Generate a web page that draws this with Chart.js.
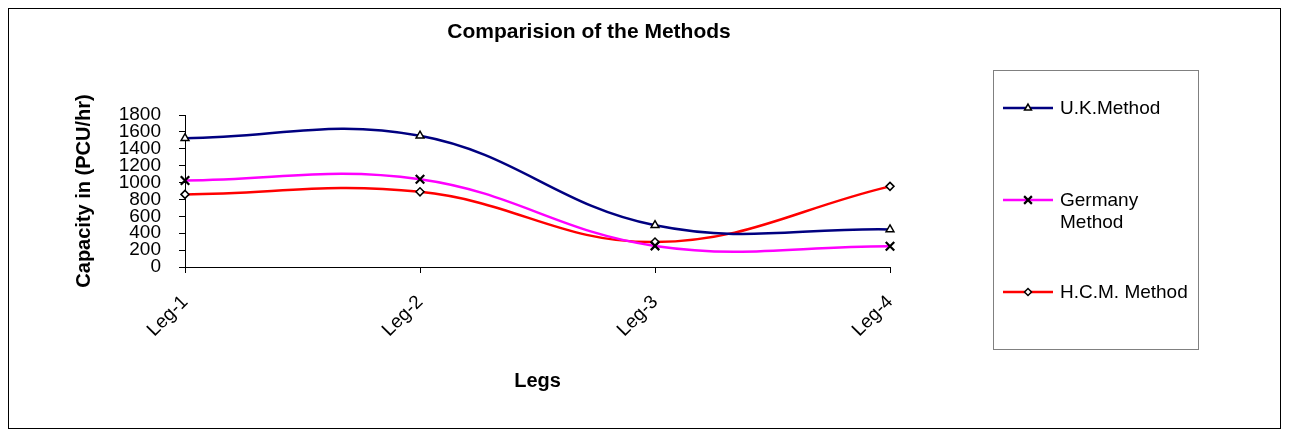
<!DOCTYPE html>
<html>
<head>
<meta charset="utf-8">
<script src="https://cdn.jsdelivr.net/npm/chart.js@4.4.1/dist/chart.umd.min.js"></script>
<style>
  html, body { margin: 0; padding: 0; background: #fff; }
  #wrap { width: 1289px; height: 437px; }
</style>
</head>
<body>
<div id="wrap"><canvas id="chart"></canvas></div>
<script>
'use strict';

/* ── data ── */
const legs          = ['Leg-1', 'Leg-2', 'Leg-3', 'Leg-4'];
const ukMethod      = [1525, 1555, 495, 445];
const germanyMethod = [1025, 1040, 250, 245];
const hcmMethod     = [860, 890, 295, 955];

const seriesNames   = ['U.K.Method', 'Germany Method', 'H.C.M. Method'];
const chartTitle    = 'Comparision of the Methods';
const yTitle        = 'Capacity in (PCU/hr)';
const xTitle        = 'Legs';
const yMax          = 1800;
const yStep         = 200;

const FONT = "Arial, 'Liberation Sans', sans-serif";

/* frame, title and the boxed legend on the right */
const framePlugin = {
  id: 'frame',
  afterDraw(chart) {
    const ctx = chart.ctx;
    ctx.save();

    // outer border
    ctx.strokeStyle = '#000';
    ctx.lineWidth = 1;
    ctx.strokeRect(8.5, 8.5, 1272, 420);

    // title
    ctx.fillStyle = '#000';
    ctx.font = `bold 21px ${FONT}`;
    ctx.textAlign = 'center';
    ctx.textBaseline = 'middle';
    ctx.fillText(chartTitle, 589, 32);

    // legend box
    ctx.strokeStyle = '#808080';
    ctx.lineWidth = 1;
    ctx.strokeRect(993.5, 70.5, 205, 279);

    ctx.font = `19px ${FONT}`;
    ctx.textAlign = 'left';
    chart.data.datasets.forEach((ds, i) => {
      const y = 108 + i * 92;
      ctx.strokeStyle = ds.borderColor;
      ctx.lineWidth = ds.borderWidth;
      ctx.beginPath();
      ctx.moveTo(1003, y);
      ctx.lineTo(1053, y);
      ctx.stroke();

      ctx.strokeStyle = '#000';
      ctx.fillStyle = '#fff';
      ctx.lineWidth = ds.pointBorderWidth;
      Chart.helpers.drawPoint(ctx, {
        pointStyle: ds.pointStyle,
        radius: ds.pointRadius - 0.5,
        rotation: 0,
        borderWidth: ds.pointBorderWidth,
      }, 1028, y);

      ctx.fillStyle = '#000';
      // wrap long labels like the original
      const words = ds.label.split(' ');
      let lines = [], cur = '';
      words.forEach(w => {
        const t = cur ? cur + ' ' + w : w;
        if (ctx.measureText(t).width > 132 && cur) { lines.push(cur); cur = w; }
        else cur = t;
      });
      lines.push(cur);
      lines.forEach((ln, k) => ctx.fillText(ln, 1060, y + 1 + k * 22));
    });
    ctx.restore();
  }
};

function makeSet(label, data, color, style, radius, markerWidth) {
  return {
    label: label,
    data: data,
    borderColor: color,
    backgroundColor: '#fff',
    borderWidth: 2.5,
    tension: 0.4,
    pointStyle: style,
    pointRadius: radius,
    pointBorderColor: '#000',
    pointBackgroundColor: '#fff',
    pointBorderWidth: markerWidth,
    fill: false,
  };
}

new Chart(document.getElementById('chart'), {
  type: 'line',
  data: {
    labels: legs,
    datasets: [
      makeSet(seriesNames[0], ukMethod,      '#000080', 'triangle', 4.5, 1.5),
      makeSet(seriesNames[1], germanyMethod, '#FF00FF', 'crossRot', 6,   2.2),
      makeSet(seriesNames[2], hcmMethod,     '#FF0000', 'rectRot',  4,   1.5),
    ],
  },
  options: {
    responsive: true,
    maintainAspectRatio: false,
    animation: false,
    layout: { padding: { left: 70, right: 399, top: 115, bottom: 40 } },
    plugins: {
      legend: { display: false },
      title: { display: false },
      tooltip: { enabled: false },
    },
    scales: {
      x: {
        offset: false,
        border: { color: '#000', width: 1 },
        grid: { display: true, drawOnChartArea: false, color: '#000', tickLength: 6 },
        ticks: {
          color: '#000',
          font: { family: FONT, size: 19 },
          maxRotation: 45,
          minRotation: 45,
          padding: 18,
        },
        title: {
          display: true,
          text: xTitle,
          color: '#000',
          font: { family: FONT, size: 20, weight: 'bold' },
          padding: { top: 0, bottom: 4 },
        },
        afterFit(scale) { scale.height = 130; },
      },
      y: {
        min: 0,
        max: yMax,
        border: { color: '#000', width: 1 },
        grid: { display: true, drawOnChartArea: false, color: '#000', tickLength: 6 },
        ticks: {
          stepSize: yStep,
          autoSkip: false,
          color: '#000',
          font: { family: FONT, size: 19, lineHeight: 1 },
          padding: 18,
          callback: (v) => String(v),
        },
        title: {
          display: true,
          text: yTitle,
          color: '#000',
          font: { family: FONT, size: 20, weight: 'bold' },
          padding: { top: 2, bottom: 0 },
        },
        afterFit(scale) { scale.width = 115; },
      },
    },
  },
  plugins: [framePlugin],
});
</script>
</body>
</html>
